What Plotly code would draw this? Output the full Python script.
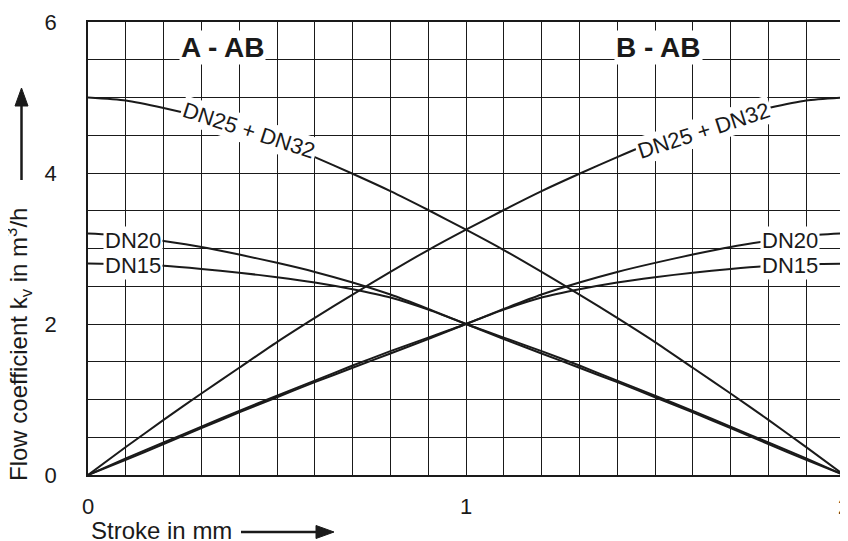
import plotly.graph_objects as go

# stroke positions (mm)
stroke = [0.0, 0.1, 0.2, 0.3, 0.4, 0.5, 0.6, 0.7, 0.8, 0.9, 1.0,
          1.1, 1.2, 1.3, 1.4, 1.5, 1.6, 1.7, 1.8, 1.9, 2.0]

# A - AB (closing A port)
kv_a_dn25_32 = [5.0, 4.96, 4.86, 4.74, 4.6, 4.42, 4.21, 3.99, 3.76, 3.51, 3.25,
                2.98, 2.69, 2.39, 2.08, 1.76, 1.42, 1.08, 0.73, 0.37, 0.0]
kv_a_dn20 = [3.2, 3.17, 3.1, 3.02, 2.92, 2.81, 2.69, 2.55, 2.39, 2.2, 2.0,
             1.82, 1.64, 1.45, 1.25, 1.05, 0.85, 0.64, 0.43, 0.22, 0.0]
kv_a_dn15 = [2.8, 2.79, 2.77, 2.73, 2.68, 2.62, 2.55, 2.46, 2.35, 2.19, 2.0,
             1.8, 1.61, 1.42, 1.23, 1.03, 0.83, 0.62, 0.41, 0.2, 0.0]

# B - AB (opening B port)
kv_b_dn25_32 = [0.0, 0.37, 0.73, 1.08, 1.42, 1.76, 2.08, 2.39, 2.69, 2.98, 3.25,
                3.51, 3.76, 3.99, 4.21, 4.42, 4.6, 4.74, 4.86, 4.96, 5.0]
kv_b_dn20 = [0.0, 0.22, 0.43, 0.64, 0.85, 1.05, 1.25, 1.45, 1.64, 1.82, 2.0,
             2.2, 2.39, 2.55, 2.69, 2.81, 2.92, 3.02, 3.1, 3.17, 3.2]
kv_b_dn15 = [0.0, 0.2, 0.41, 0.62, 0.83, 1.03, 1.23, 1.42, 1.61, 1.8, 2.0,
             2.19, 2.35, 2.46, 2.55, 2.62, 2.68, 2.73, 2.77, 2.79, 2.8]

x_ticks = [0, 1, 2]
y_ticks = [0, 2, 4, 6]

INK = "#1a1a1a"
FONT = "Arial, Liberation Sans, sans-serif"

# the page body has an 8px margin, so the figure is shrunk to fit the window
OFF = 8
W, H = 848 - OFF, 541 - OFF
L, R, T, B = 80, 4, 14, 66
PW, PH = W - L - R, H - T - B


def px_to_paper(px, py):
    # window pixel -> paper coords
    return (px - OFF - L) / PW, (H - B - (py - OFF)) / PH


fig = go.Figure()
for ys in [kv_a_dn25_32, kv_a_dn20, kv_a_dn15, kv_b_dn25_32, kv_b_dn20, kv_b_dn15]:
    fig.add_trace(go.Scatter(x=stroke, y=ys, mode="lines", line=dict(color=INK, width=2, shape="spline", smoothing=0.6),
                             showlegend=False, hoverinfo="skip"))

fig.update_xaxes(range=[0, 2], tickvals=x_ticks, showgrid=False, zeroline=False, automargin=False,
                 showline=True, linecolor=INK, linewidth=1.5, mirror=True, ticklabeloverflow="allow",
                 ticks="", ticklabelstandoff=11, tickfont=dict(size=22, color=INK),
                 minor=dict(dtick=0.1, showgrid=True, gridcolor=INK, gridwidth=1.3))
fig.update_yaxes(range=[0, 6], tickvals=y_ticks, showgrid=False, zeroline=False, automargin=False,
                 showline=True, linecolor=INK, linewidth=1.5, mirror=True, ticklabeloverflow="allow",
                 ticks="", ticklabelstandoff=25, tickfont=dict(size=22, color=INK),
                 minor=dict(dtick=0.5, showgrid=True, gridcolor=INK, gridwidth=1.3))

# curve labels with white boxes
labels = [
    dict(x=0.357, y=5.66, text="<b>A - AB</b>", size=28, angle=0),
    dict(x=1.51, y=5.66, text="<b>B - AB</b>", size=28, angle=0),
    dict(x=0.426, y=4.56, text="DN25 + DN32", size=22, angle=18),
    dict(x=1.63, y=4.56, text="DN25 + DN32", size=22, angle=-18),
    dict(x=0.118, y=3.11, text="DN20", size=22, angle=0),
    dict(x=0.118, y=2.78, text="DN15", size=22, angle=0),
    dict(x=1.857, y=3.11, text="DN20", size=22, angle=0),
    dict(x=1.857, y=2.78, text="DN15", size=22, angle=0),
]
for lb in labels:
    fig.add_annotation(x=lb["x"], y=lb["y"], text=lb["text"], showarrow=False,
                       textangle=lb["angle"], bgcolor="white", borderpad=1,
                       font=dict(size=lb["size"], color=INK, family=FONT))

# axis titles
tx, ty = px_to_paper(19, 345)
fig.add_annotation(xref="paper", yref="paper", x=tx, y=ty, xanchor="center", yanchor="middle",
                   text="Flow coefficient k<sub>v</sub> in m<sup>3</sup>/h", textangle=-90,
                   showarrow=False, font=dict(size=24, color=INK, family=FONT))
tx, ty = px_to_paper(89, 530)
fig.add_annotation(xref="paper", yref="paper", x=tx, y=ty, xanchor="left", yanchor="middle",
                   text="Stroke in mm", showarrow=False,
                   font=dict(size=24, color=INK, family=FONT))

# arrows next to the titles (line + triangle head)
x0, y0 = px_to_paper(21.5, 180)
x1, y1 = px_to_paper(21.5, 102)
fig.add_shape(type="line", xref="paper", yref="paper", x0=x0, y0=y0, x1=x1, y1=y1,
              line=dict(color=INK, width=2.5))
a, b = px_to_paper(21.5, 88)
c, d = px_to_paper(15, 106)
e, f = px_to_paper(28, 106)
fig.add_shape(type="path", xref="paper", yref="paper", path=f"M {a} {b} L {c} {d} L {e} {f} Z",
              fillcolor=INK, line=dict(color=INK, width=1))

x0, y0 = px_to_paper(241, 532)
x1, y1 = px_to_paper(320, 532)
fig.add_shape(type="line", xref="paper", yref="paper", x0=x0, y0=y0, x1=x1, y1=y1,
              line=dict(color=INK, width=2.5))
a, b = px_to_paper(334, 532)
c, d = px_to_paper(316, 525.5)
e, f = px_to_paper(316, 538.5)
fig.add_shape(type="path", xref="paper", yref="paper", path=f"M {a} {b} L {c} {d} L {e} {f} Z",
              fillcolor=INK, line=dict(color=INK, width=1))

fig.update_layout(width=W, height=H, margin=dict(l=L, r=R, t=T, b=B),
                  plot_bgcolor="white", paper_bgcolor="white",
                  font=dict(family=FONT, color=INK))

fig.write_html("out.html")
